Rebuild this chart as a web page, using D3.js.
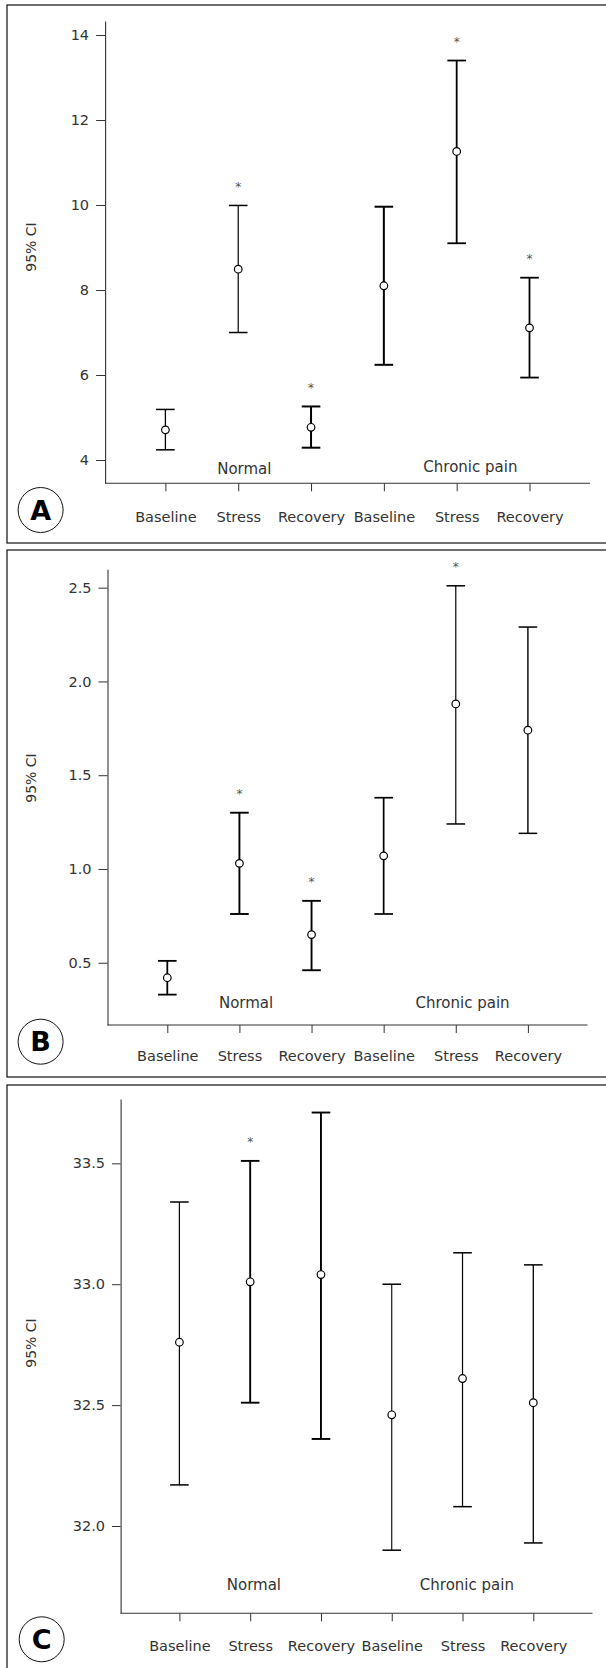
<!DOCTYPE html>
<html>
<head>
<meta charset="utf-8">
<script src="https://cdn.jsdelivr.net/npm/d3@7"></script>
<style>
  html, body { margin: 0; padding: 0; background: #fff; }
  svg { display: block; }
  text { font-family: "DejaVu Sans", "Liberation Sans", Arial, sans-serif; }
</style>
</head>
<body>
<svg id="chart" width="606" height="1668"></svg>
<script>
// ---- Data ----
const categories = ["Baseline", "Stress", "Recovery", "Baseline", "Stress", "Recovery"];
const groupLabels = ["Normal", "Chronic pain"];
const panelLetters = ["A", "B", "C"];
const yLabel = "95% CI";

// Panel A
const meanA  = [4.71, 8.49, 4.77, 8.10, 11.26, 7.11];
const lowerA = [4.24, 7.00, 4.29, 6.24, 9.10, 5.94];
const upperA = [5.19, 9.99, 5.26, 9.96, 13.40, 8.29];
const sigA   = [false, true, true, false, true, true];
const ticksA = [4, 6, 8, 10, 12, 14];

// Panel B
const meanB  = [0.42, 1.03, 0.65, 1.07, 1.88, 1.74];
const lowerB = [0.33, 0.76, 0.46, 0.76, 1.24, 1.19];
const upperB = [0.51, 1.30, 0.83, 1.38, 2.51, 2.29];
const sigB   = [false, true, true, false, true, false];
const ticksB = [0.5, 1.0, 1.5, 2.0, 2.5];

// Panel C
const meanC  = [32.76, 33.01, 33.04, 32.46, 32.61, 32.51];
const lowerC = [32.17, 32.51, 32.36, 31.90, 32.08, 31.93];
const upperC = [33.34, 33.51, 33.71, 33.00, 33.13, 33.08];
const sigC   = [false, true, false, false, false, false];
const ticksC = [32.0, 32.5, 33.0, 33.5];

// ---- Layout / style (pixels) ----
const panels = [
  { mean: meanA, lower: lowerA, upper: upperA, sig: sigA, ticks: ticksA, fmt: d3.format("d"),
    frame: [7, 5, 620, 543], ax: 105.1, ay: 483.3, top: 21, right: 590,
    ydom: [3.452, 14.33], xr: [165.4, 529.5], gy: [474, 472], gx: [244.3, 470.4],
    circ: [40.6, 510], yl: [31, 247], tickLabY: 522, tickSize: 9,
    sw: [1.3, 1.2, 2, 2, 1.8, 1.8] },
  { mean: meanB, lower: lowerB, upper: upperB, sig: sigB, ticks: ticksB, fmt: d3.format(".1f"),
    frame: [7, 550, 620, 1077], ax: 107.5, ay: 1025, top: 569.3, right: 587.5,
    ydom: [0.168, 2.598], xr: [167.3, 527.9], gy: [1008, 1008], gx: [246.1, 462.6],
    circ: [40.6, 1041.7], yl: [31, 778], tickLabY: 1061, tickSize: 9,
    sw: [1.8, 1.9, 1.9, 1.7, 1.2, 1.4] },
  { mean: meanC, lower: lowerC, upper: upperC, sig: sigC, ticks: ticksC, fmt: d3.format(".1f"),
    frame: [7, 1085, 620, 1700], ax: 120.6, ay: 1613.3, top: 1099, right: 592.5,
    ydom: [31.639, 33.766], xr: [179.4, 533.3], gy: [1590, 1590], gx: [253.9, 466.9],
    circ: [41.7, 1639.3], yl: [31, 1343], tickLabY: 1651, tickSize: 8.6,
    sw: [1.2, 1.9, 1.9, 1.1, 1.2, 1.3] }
];

const svg = d3.select("#chart");
const idx = d3.range(categories.length);
const FONT = "DejaVu Sans, Liberation Sans, Arial, sans-serif";

panels.forEach((p, pi) => {
  const g = svg.append("g");
  // frame
  g.append("rect")
    .attr("x", p.frame[0]).attr("y", p.frame[1])
    .attr("width", p.frame[2] - p.frame[0]).attr("height", p.frame[3] - p.frame[1])
    .attr("fill", "none").attr("stroke", "#222").attr("stroke-width", 1.3);

  const y = d3.scaleLinear().domain(p.ydom).range([p.ay, p.top]);
  const x = d3.scalePoint().domain(idx).range(p.xr);

  // y axis
  const yAxis = d3.axisLeft(y).tickValues(p.ticks).tickFormat(p.fmt)
    .tickSize(p.tickSize).tickSizeOuter(0).tickPadding(7);
  const ya = g.append("g").attr("transform", `translate(${p.ax},0)`).call(yAxis);
  ya.attr("font-family", FONT);
  ya.select(".domain").attr("stroke", "#333").attr("stroke-width", 1.1);
  ya.selectAll(".tick line").attr("stroke", "#333");
  ya.selectAll(".tick text").attr("font-size", 14.5).attr("fill", "#333");

  // x axis line
  g.append("line").attr("x1", p.ax).attr("x2", p.right)
    .attr("y1", p.ay).attr("y2", p.ay).attr("stroke", "#333").attr("stroke-width", 1.1);
  const xAxis = d3.axisBottom(x).tickFormat(i => categories[i])
    .tickSize(8).tickSizeOuter(0).tickPadding(0);
  const xa = g.append("g").attr("transform", `translate(0,${p.ay})`).call(xAxis);
  xa.attr("font-family", FONT);
  xa.select(".domain").remove();
  xa.selectAll(".tick line").attr("stroke", "#333");
  xa.selectAll(".tick text").attr("font-size", 14.5).attr("fill", "#333")
    .attr("dy", null).attr("y", p.tickLabY - p.ay);

  // group labels
  groupLabels.forEach((t, k) => {
    g.append("text").attr("x", p.gx[k]).attr("y", p.gy[k])
      .attr("text-anchor", "middle").attr("font-size", 15).attr("fill", "#333").text(t);
  });

  // y label
  g.append("text")
    .attr("transform", `translate(${p.yl[0] + 5},${p.yl[1]}) rotate(-90)`)
    .attr("text-anchor", "middle").attr("font-size", 14).attr("fill", "#333").text(yLabel);

  // panel letter
  g.append("circle").attr("cx", p.circ[0]).attr("cy", p.circ[1]).attr("r", 22.5)
    .attr("fill", "none").attr("stroke", "#111").attr("stroke-width", 1);
  g.append("text").attr("x", p.circ[0]).attr("y", p.circ[1] + 9.7)
    .attr("text-anchor", "middle").attr("font-size", 27).attr("font-weight", "bold")
    .attr("font-family", "Liberation Sans, Arial, sans-serif")
    .attr("fill", "#000").text(panelLetters[pi]);

  // error bars
  const bars = g.append("g").selectAll("g").data(idx).join("g");
  const hw = 9.3;
  bars.append("line")
    .attr("x1", i => x(i)).attr("x2", i => x(i))
    .attr("y1", i => y(p.lower[i])).attr("y2", i => y(p.upper[i]))
    .attr("stroke", "#000").attr("stroke-width", i => p.sw[i]);
  bars.append("line")
    .attr("x1", i => x(i) - hw).attr("x2", i => x(i) + hw)
    .attr("y1", i => y(p.upper[i])).attr("y2", i => y(p.upper[i]))
    .attr("stroke", "#000").attr("stroke-width", i => Math.max(1.5, p.sw[i]));
  bars.append("line")
    .attr("x1", i => x(i) - hw).attr("x2", i => x(i) + hw)
    .attr("y1", i => y(p.lower[i])).attr("y2", i => y(p.lower[i]))
    .attr("stroke", "#000").attr("stroke-width", i => Math.max(1.5, p.sw[i]));
  bars.append("circle")
    .attr("cx", i => x(i)).attr("cy", i => y(p.mean[i])).attr("r", 3.8)
    .attr("fill", "#fff").attr("stroke", "#000").attr("stroke-width", 1.2);

  // significance stars
  g.append("g").selectAll("text").data(idx.filter(i => p.sig[i])).join("text")
    .attr("x", i => x(i)).attr("y", i => y(p.upper[i]) - 21 + 6.5)
    .attr("text-anchor", "middle").attr("font-size", 12).attr("fill", "#555").text("*");
});
</script>
</body>
</html>
